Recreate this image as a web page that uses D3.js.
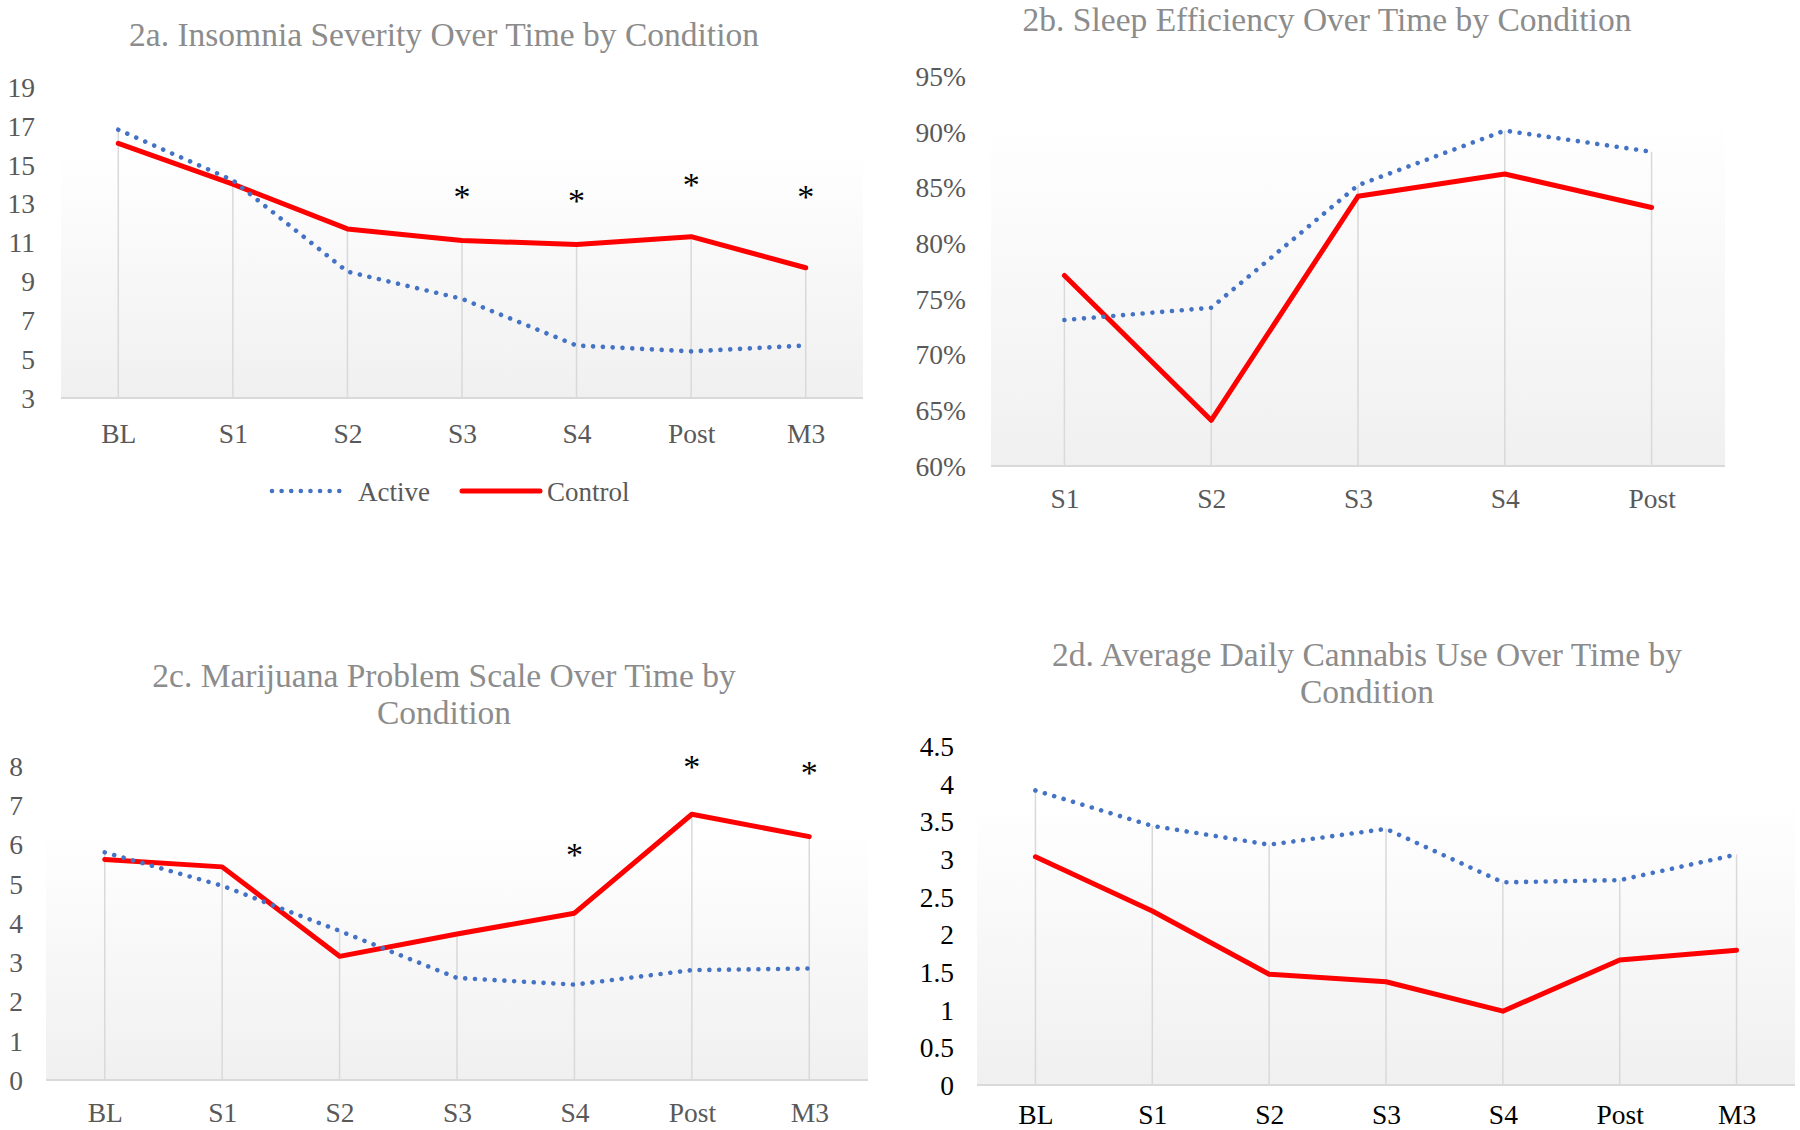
<!DOCTYPE html>
<html>
<head>
<meta charset="utf-8">
<script src="https://cdn.jsdelivr.net/npm/d3@7"></script>
<style>
  html, body { margin: 0; padding: 0; background: #fff; }
  svg { display: block; }
</style>
</head>
<body>
<svg id="chart" width="1800" height="1130"></svg>
<script>
const SERIES = ['Active', 'Control'];
const TIMEPOINTS = ['BL', 'S1', 'S2', 'S3', 'S4', 'Post', 'M3'];
const SLEEP_TIMEPOINTS = ['S1', 'S2', 'S3', 'S4', 'Post'];

// 2a insomnia severity
const isiActive = [16.8, 14.2, 9.5, 8.1, 5.7, 5.4, 5.7];
const isiControl = [16.1, 14.0, 11.7, 11.1, 10.9, 11.3, 9.7];
const isiTicks = [3, 5, 7, 9, 11, 13, 15, 17, 19];
const isiStars = [['S3', 13.6], ['S4', 13.4], ['Post', 14.2], ['M3', 13.6]];

// 2b sleep efficiency (%)
const seActive = [73.1, 74.2, 85.2, 90.1, 88.2];
const seControl = [77.1, 64.1, 84.2, 86.2, 83.2];
const seTicks = [60, 65, 70, 75, 80, 85, 90, 95];

// 2c marijuana problem scale
const mpsActive = [5.8, 4.95, 3.8, 2.6, 2.43, 2.8, 2.84];
const mpsControl = [5.62, 5.43, 3.15, 3.72, 4.25, 6.77, 6.2];
const mpsTicks = [0, 1, 2, 3, 4, 5, 6, 7, 8];
const mpsStars = [['S4', 5.85], ['Post', 8.1], ['M3', 7.95]];

// 2d average daily cannabis use
const useActive = [3.91, 3.44, 3.19, 3.40, 2.69, 2.72, 3.06];
const useControl = [3.03, 2.31, 1.47, 1.37, 0.98, 1.66, 1.79];
const useTicks = [0, 0.5, 1, 1.5, 2, 2.5, 3, 3.5, 4, 4.5];

const FONT = "'Liberation Serif', 'Times New Roman', serif";
const BLUE = '#4472C4';
const RED = '#FF0000';

const svg = d3.select('#chart');

const defs = svg.append('defs');
const grad = defs.append('linearGradient')
  .attr('id', 'plotfill').attr('x1', 0).attr('y1', 0).attr('x2', 0).attr('y2', 1);
grad.append('stop').attr('offset', '0%').attr('stop-color', '#ffffff');
grad.append('stop').attr('offset', '100%').attr('stop-color', '#f0f0f0');

function drawPanel(p) {
  const g = svg.append('g');
  const x = d3.scalePoint().domain(p.cats).range([p.left, p.right]).padding(0.5);
  const y = d3.scaleLinear().domain(d3.extent(p.ticks)).range([p.bottom, p.top]);

  g.append('rect')
    .attr('x', p.left).attr('y', p.fillTop)
    .attr('width', p.right - p.left).attr('height', p.bottom - p.fillTop)
    .attr('fill', 'url(#plotfill)');

  // drop lines from the highest point down to the axis
  g.append('g').selectAll('line')
    .data(p.cats)
    .join('line')
    .attr('x1', d => x(d)).attr('x2', d => x(d))
    .attr('y1', p.bottom)
    .attr('y2', (d, i) => y(Math.max(p.active[i], p.control[i])))
    .attr('stroke', '#d9d9d9').attr('stroke-width', 1.5);

  g.append('line')
    .attr('x1', p.left).attr('x2', p.right)
    .attr('y1', p.bottom).attr('y2', p.bottom)
    .attr('stroke', '#d9d9d9').attr('stroke-width', 2);

  const yAxis = g.append('g')
    .attr('transform', 'translate(' + p.labelX + ',0)')
    .call(d3.axisLeft(y).tickValues(p.ticks).tickSize(0).tickPadding(0).tickFormat(p.fmt || (d => d)));
  yAxis.select('.domain').remove();
  yAxis.selectAll('text')
    .attr('font-family', FONT).attr('font-size', 27.5).attr('fill', p.labelColor)
    .attr('dy', '0.34em');

  const xAxis = g.append('g')
    .attr('transform', 'translate(0,' + p.xLabelY + ')')
    .call(d3.axisBottom(x).tickSize(0).tickPadding(0));
  xAxis.select('.domain').remove();
  xAxis.selectAll('text')
    .attr('font-family', FONT).attr('font-size', 27.5).attr('fill', p.labelColor)
    .attr('dy', 0);

  const line = d3.line()
    .x((d, i) => x(p.cats[i])).y(d => y(d));

  g.append('path').datum(p.control)
    .attr('d', line)
    .attr('fill', 'none').attr('stroke', RED).attr('stroke-width', 5)
    .attr('stroke-linejoin', 'round').attr('stroke-linecap', 'round');

  g.append('path').datum(p.active)
    .attr('d', line)
    .attr('fill', 'none').attr('stroke', BLUE).attr('stroke-width', 4.6)
    .attr('stroke-dasharray', '0.01 9.8').attr('stroke-linecap', 'round');

  if (p.stars) {
    g.append('g').selectAll('text')
      .data(p.stars)
      .join('text')
      .attr('x', d => x(d[0]))
      .attr('y', d => y(d[1]) + 16)
      .attr('text-anchor', 'middle')
      .attr('font-family', FONT).attr('font-size', 34).attr('fill', '#000')
      .text('*');
  }

  const title = g.append('text')
    .attr('x', p.titleX).attr('y', p.titleY)
    .attr('text-anchor', 'middle')
    .attr('font-family', FONT).attr('font-size', 33.5).attr('fill', '#8c8c8c');
  p.title.forEach((t, i) => {
    title.append('tspan').attr('x', p.titleX).attr('dy', i ? 36.5 : 0).text(t);
  });

  if (p.legend) {
    const lg = g.append('g').attr('transform', 'translate(' + p.legend[0] + ',' + p.legend[1] + ')');
    lg.append('line').attr('x1', 0).attr('x2', 74).attr('y1', 0).attr('y2', 0)
      .attr('stroke', BLUE).attr('stroke-width', 4.6)
      .attr('stroke-dasharray', '0.01 9.6').attr('stroke-linecap', 'round');
    lg.append('text').attr('x', 86).attr('y', 10).text(SERIES[0])
      .attr('font-family', FONT).attr('font-size', 27).attr('fill', '#595959');
    lg.append('line').attr('x1', 190).attr('x2', 268).attr('y1', 0).attr('y2', 0)
      .attr('stroke', RED).attr('stroke-width', 5).attr('stroke-linecap', 'round');
    lg.append('text').attr('x', 275).attr('y', 10).text(SERIES[1])
      .attr('font-family', FONT).attr('font-size', 27).attr('fill', '#595959');
  }
}

drawPanel({
  cats: TIMEPOINTS, active: isiActive, control: isiControl, ticks: isiTicks, stars: isiStars,
  left: 61, right: 863, top: 87, bottom: 398, fillTop: 150,
  labelX: 35, xLabelY: 443, labelColor: '#595959',
  title: ['2a. Insomnia Severity Over Time by Condition'], titleX: 444, titleY: 46,
  legend: [272, 491]
});

drawPanel({
  cats: SLEEP_TIMEPOINTS, active: seActive, control: seControl, ticks: seTicks,
  left: 991, right: 1725, top: 76, bottom: 466, fillTop: 120,
  labelX: 966, xLabelY: 508, labelColor: '#595959', fmt: d => d + '%',
  title: ['2b. Sleep Efficiency Over Time by Condition'], titleX: 1327, titleY: 31
});

drawPanel({
  cats: TIMEPOINTS, active: mpsActive, control: mpsControl, ticks: mpsTicks, stars: mpsStars,
  left: 46, right: 868, top: 766, bottom: 1080, fillTop: 830,
  labelX: 23, xLabelY: 1122, labelColor: '#595959',
  title: ['2c. Marijuana Problem Scale Over Time by', 'Condition'], titleX: 444, titleY: 687
});

drawPanel({
  cats: TIMEPOINTS, active: useActive, control: useControl, ticks: useTicks,
  left: 977, right: 1795, top: 746, bottom: 1085, fillTop: 800,
  labelX: 954, xLabelY: 1124, labelColor: '#000000',
  title: ['2d. Average Daily Cannabis Use Over Time by', 'Condition'], titleX: 1367, titleY: 666
});
</script>
</body>
</html>
